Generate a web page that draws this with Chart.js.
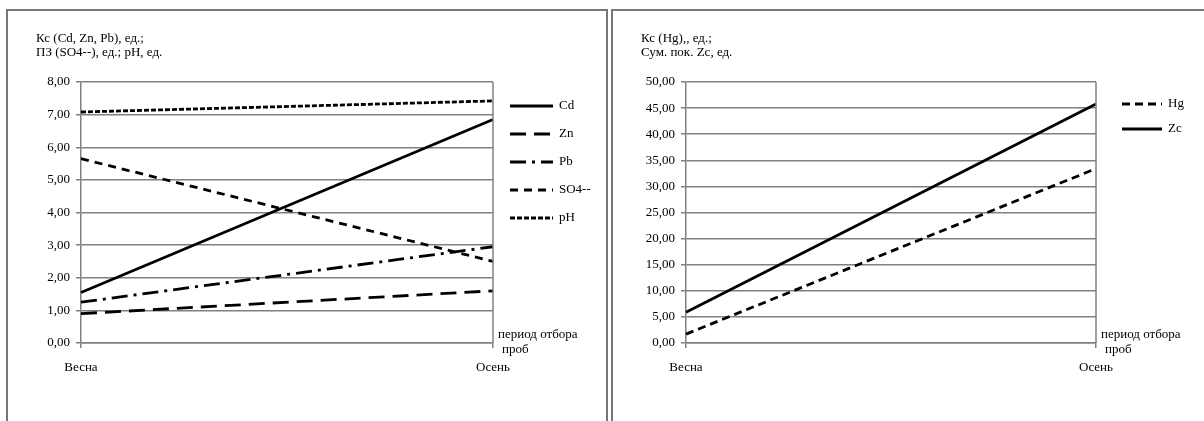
<!DOCTYPE html>
<html>
<head>
<meta charset="utf-8">
<script src="https://cdn.jsdelivr.net/npm/chart.js@4.4.0/dist/chart.umd.min.js"></script>
<style>
  body { margin: 0; background: #fff; width: 1204px; height: 421px; overflow: hidden; position: relative; }
  .panel { position: absolute; top: 9px; height: 430px; border: 2px solid #777; box-sizing: border-box; }
  #p1 { left: 6px; width: 602px; }
  #p2 { left: 611px; width: 600px; }
  canvas { position: absolute; }
</style>
</head>
<body>
<div class="panel" id="p1"></div>
<div class="panel" id="p2"></div>
<canvas id="c1" style="left:8px;top:11px;width:598px;height:410px"></canvas>
<canvas id="c2" style="left:613px;top:11px;width:591px;height:410px"></canvas>
<script>
const seasons = ["Весна", "Осень"];

// left chart
const cd = [1.55, 6.85];
const zn = [0.90, 1.60];
const pb = [1.25, 2.95];
const so4 = [5.65, 2.50];
const ph = [7.08, 7.42];

// right chart
const hg = [1.7, 33.4];
const zc = [5.9, 45.8];

const FONT = "'Liberation Serif', 'Times New Roman', serif";
const FS = 13;
const GRID = "#808080";

function fmt(v) { return v.toFixed(2).replace('.', ','); }

// y axis title, legend and x axis caption drawn by hand
const extras = {
  id: 'extras',
  afterDraw(chart, args, opts) {
    const ctx = chart.ctx, a = chart.chartArea;
    ctx.save();
    ctx.fillStyle = '#000';
    ctx.font = FS + 'px ' + FONT;
    ctx.textBaseline = 'middle';
    ctx.textAlign = 'left';
    opts.title.forEach((t, i) => ctx.fillText(t, 28, 28 + i * 14));
    ctx.fillText('период отбора', a.right + 5, a.bottom - 8);
    ctx.fillText('проб', a.right + 9, a.bottom + 7);
    chart.data.datasets.forEach((ds, i) => {
      const y = opts.legendTop + i * opts.legendStep;
      const x0 = a.right + opts.legendX;
      ctx.beginPath();
      ctx.setLineDash(ds.borderDash || []);
      ctx.lineWidth = ds.borderWidth;
      ctx.strokeStyle = '#000';
      ctx.moveTo(x0, y);
      ctx.lineTo(x0 + opts.legendLen, y);
      ctx.stroke();
      ctx.setLineDash([]);
      ctx.fillText(ds.label, x0 + opts.legendLen + 6, y);
    });
    ctx.restore();
  }
};

function makeChart(id, datasets, yMax, yStep, title, legend, padRight) {
  return new Chart(id, {
    type: 'line',
    data: { labels: seasons, datasets: datasets },
    plugins: [extras],
    options: {
      responsive: false,
      animation: false,
      devicePixelRatio: 1,
      layout: { padding: { top: 71, right: padRight, bottom: 0, left: 0 } },
      elements: { point: { radius: 0 }, line: { tension: 0, borderColor: '#000' } },
      plugins: {
        legend: { display: false },
        tooltip: { enabled: false },
        extras: Object.assign({ title: title }, legend)
      },
      scales: {
        x: {
          offset: false,
          afterFit: s => { s.height = 78; },
          grid: { display: true, drawOnChartArea: false, color: GRID, lineWidth: 1.5, tickLength: 5 },
          border: { color: GRID, width: 1.5 },
          ticks: { color: '#000', font: { family: FONT, size: FS }, padding: 12, maxRotation: 0 }
        },
        y: {
          min: 0, max: yMax,
          afterFit: s => { s.width = 73; },
          grid: { color: GRID, lineWidth: 1.5, tickLength: 5 },
          border: { color: GRID, width: 1.5 },
          ticks: { stepSize: yStep, color: '#000', font: { family: FONT, size: FS }, padding: 6, callback: v => fmt(v) }
        }
      }
    }
  });
}

// right border of plot area
const frame = {
  id: 'frame',
  afterDatasetsDraw(chart) {
    const ctx = chart.ctx, a = chart.chartArea;
    ctx.save();
    ctx.strokeStyle = GRID; ctx.lineWidth = 1.5;
    ctx.beginPath(); ctx.moveTo(a.right, a.top); ctx.lineTo(a.right, a.bottom); ctx.stroke();
    ctx.restore();
  }
};
Chart.register(frame);

const c1 = document.getElementById('c1'); c1.width = 598; c1.height = 410;
const c2 = document.getElementById('c2'); c2.width = 591; c2.height = 410;

makeChart('c1', [
  { label: 'Cd', data: cd, borderWidth: 2.8 },
  { label: 'Zn', data: zn, borderWidth: 2.8, borderDash: [16, 8] },
  { label: 'Pb', data: pb, borderWidth: 2.8, borderDash: [16, 6, 3, 6] },
  { label: 'SO4--', data: so4, borderWidth: 2.8, borderDash: [8, 6] },
  { label: 'pH', data: ph, borderWidth: 2.8, borderDash: [5, 2] }
], 8, 1, ['Кс (Cd, Zn, Pb), ед.;', 'ПЗ (SO4--), ед.; pH, ед.'],
  { legendX: 17, legendTop: 95, legendStep: 28, legendLen: 43 }, 113);

makeChart('c2', [
  { label: 'Hg', data: hg, borderWidth: 2.8, borderDash: [8, 5] },
  { label: 'Zc', data: zc, borderWidth: 2.8 }
], 50, 5, ['Кс (Hg),, ед.;', 'Сум. пок. Zc, ед.'],
  { legendX: 26, legendTop: 93, legendStep: 25, legendLen: 40 }, 108);
</script>
</body>
</html>
